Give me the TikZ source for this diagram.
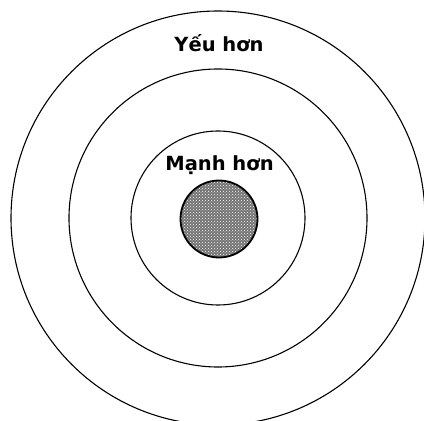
\documentclass[tikz,border=0pt]{standalone}
\usepackage{fontspec}
\setmainfont{DejaVu Sans}
\usetikzlibrary{patterns}
\begin{document}
\begin{tikzpicture}[x=1pt,y=1pt,
  ring/.style={circle, draw=black, line width=1.1pt, inner sep=0pt},
  label/.style={font=\fontsize{19.5}{22}\selectfont\bfseries, inner sep=0pt, anchor=base}]
\useasboundingbox (0,0) rectangle (424,421);
\coordinate (c) at (218,203);
\node[ring, minimum size=414pt] (outer) at (c) {};
\node[ring, minimum size=298pt] (middle) at (c) {};
\node[ring, minimum size=174pt] (inner) at (c) {};
\node[ring, minimum size=77pt, line width=1.8pt, preaction={fill=black!55}, pattern=crosshatch dots, pattern color=white] (core) at (219,202) {};
\node[label] (weaker) at (219,369) {Yếu hơn};
\node[label] (stronger) at (219.5,250) {Mạnh hơn};
\end{tikzpicture}
\end{document}
